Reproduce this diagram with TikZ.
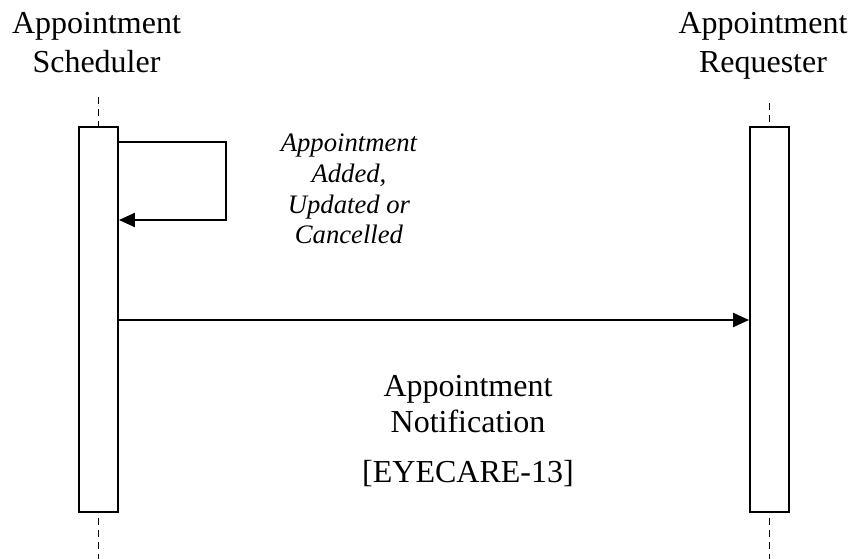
\documentclass[tikz,border=0pt]{standalone}
\usepackage{fontspec}
\setmainfont{Liberation Serif}
\usetikzlibrary{arrows.meta,positioning}

\begin{document}
\begin{tikzpicture}[x=0.75pt,y=-0.75pt,
  bar/.style={draw, line width=1.4pt, fill=white, minimum width=29.25pt, minimum height=288.75pt, inner sep=0pt},
  lifeline/.style={line width=1.4pt, dash pattern=on 5pt off 4pt},
  msgline/.style={line width=1.7pt, -{Triangle[length=12pt,width=10.5pt]}},
  actor/.style={align=center, font=\fontsize{24}{29.25}\selectfont, inner sep=0pt},
  note/.style={align=center, font=\fontsize{20}{23}\selectfont\itshape, inner sep=0pt},
  msglabel/.style={align=center, font=\fontsize{24}{27}\selectfont, inner sep=0pt}]
\useasboundingbox (0,0) rectangle (850,559);

% activation bars
\node[bar] (sched) at (98.5,319.5) {};
\node[bar] (req) at (769.5,319.5) {};

% lifelines
\coordinate (schedtop) at (98.5,97);
\coordinate (schedend) at (98.5,559);
\coordinate (reqtop) at (769.5,103);
\coordinate (reqend) at (769.5,559);
\draw[lifeline] (schedtop) -- (sched.north);
\draw[lifeline, shorten <=3.75pt] (sched.south) -- (schedend);
\draw[lifeline] (reqtop) -- (req.north);
\draw[lifeline, shorten <=3.75pt] (req.south) -- (reqend);

% actors (base = last line)
\node[actor, anchor=base] (schedname) at (96.5,73) {Appointment\\Scheduler};
\node[actor, anchor=base] (reqname) at (763,73) {Appointment\\Requester};

% self message
\coordinate (selftop) at (0,142);
\coordinate (selfbot) at (0,220);
\coordinate (selfturn) at (226,0);
\draw[msgline] (sched.east |- selftop) -| (selfturn |- selfbot) -- (sched.east |- selfbot);
\node[note, anchor=base] (selfnote) at (349,244) {Appointment\\Added,\\Updated or\\Cancelled};

% notification
\coordinate (notif) at (0,320);
\draw[msgline] (sched.east |- notif) -- (req.west |- notif);
\node[msglabel, anchor=base] (notifname) at (468,433) {Appointment\\Notification};
\node[msglabel, anchor=base] (notiftag) at (468,483) {[EYECARE-13]};
\end{tikzpicture}
\end{document}
